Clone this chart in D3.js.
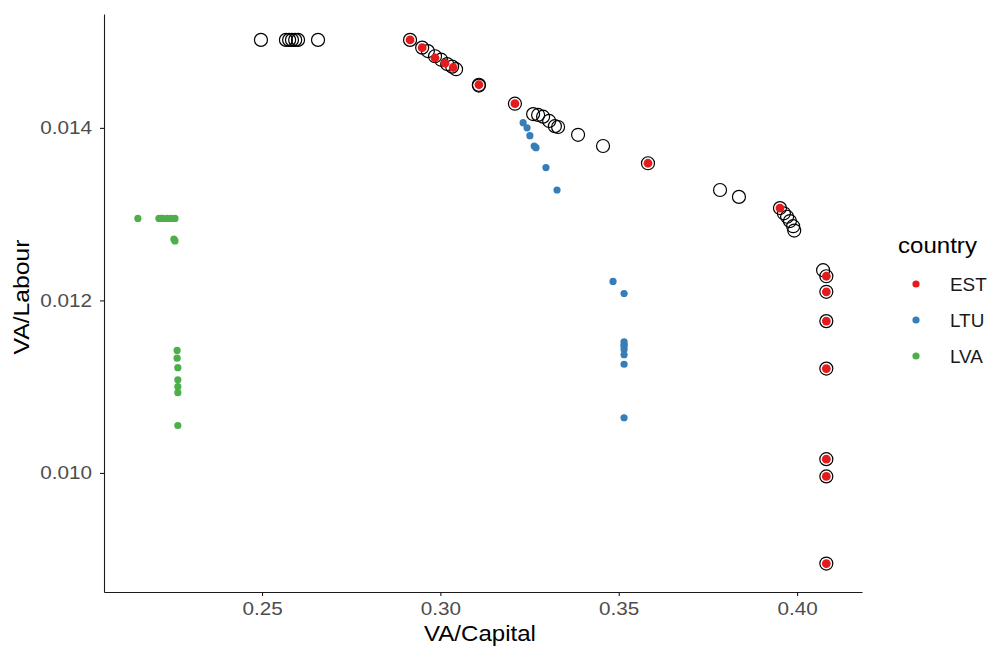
<!DOCTYPE html>
<html>
<head>
<meta charset="utf-8">
<script src="https://cdn.jsdelivr.net/npm/d3@7"></script>
<style>
  body { margin: 0; background: #fff; }
  text { font-family: "Liberation Sans", Arial, sans-serif; }
  .axis text { fill: #4d4d4d; font-size: 18px; }
  .axis path, .axis line { stroke: #1a1a1a; stroke-width: 1.1; }
</style>
</head>
<body>
<script>
// data
var countries = ["EST", "LTU", "LVA"];
var colours = ["#E41A1C", "#377EB8", "#4DAF4A"];

var estX = [0.2915, 0.2949, 0.2985, 0.3013, 0.3036, 0.3108, 0.3209, 0.3582, 0.3952,
            0.4082, 0.4082, 0.4082, 0.4082, 0.4082, 0.4082, 0.4082];
var estY = [0.01502, 0.01493, 0.01481, 0.01475, 0.01470, 0.01450, 0.01428, 0.01359, 0.01307,
            0.01228, 0.01210, 0.01176, 0.01121, 0.01016, 0.00996, 0.00895];

var ltuX = [0.3232, 0.3243, 0.3251, 0.3263, 0.3268, 0.3296, 0.3327, 0.3484,
            0.3515, 0.3515, 0.3515, 0.3515, 0.3515, 0.3515, 0.3515, 0.3515];
var ltuY = [0.01406, 0.01400, 0.01391, 0.01379, 0.01377, 0.01354, 0.01328, 0.01222,
            0.01208, 0.01152, 0.01149, 0.01147, 0.01143, 0.01137, 0.01126, 0.01064];

var lvaX = [0.2152, 0.2211, 0.2217, 0.2222, 0.2234, 0.2245, 0.2256, 0.2253,
            0.2256, 0.2262, 0.2262, 0.2264, 0.2264, 0.2264, 0.2264, 0.2264];
var lvaY = [0.01295, 0.01295, 0.01295, 0.01295, 0.01295, 0.01295, 0.01295, 0.01271,
            0.01269, 0.01142, 0.01133, 0.01122, 0.01108, 0.01100, 0.01093, 0.01055];

// open circles (frontier)
var frontX = [0.2497, 0.2567, 0.2576, 0.2584, 0.2593, 0.2601, 0.2657,
              0.2915, 0.2949, 0.2965, 0.2985, 0.3002, 0.3019, 0.3033, 0.3044, 0.3108, 0.3108,
              0.3209, 0.3260, 0.3274, 0.3288, 0.3305, 0.3321, 0.3330, 0.3386, 0.3456, 0.3582,
              0.3784, 0.3837, 0.3952, 0.3963, 0.3972, 0.3980, 0.3989, 0.3992, 0.4073,
              0.4082, 0.4082, 0.4082, 0.4082, 0.4082, 0.4082, 0.4082];
var frontY = [0.01502, 0.01502, 0.01502, 0.01502, 0.01502, 0.01502, 0.01502,
              0.01502, 0.01493, 0.01489, 0.01483, 0.01479, 0.01474, 0.01471, 0.01468, 0.01450, 0.01449,
              0.01428, 0.01416, 0.01415, 0.01413, 0.01408, 0.01402, 0.01401, 0.01392, 0.01379, 0.01359,
              0.01328, 0.01320, 0.01307, 0.01301, 0.01297, 0.01292, 0.01286, 0.01281, 0.01235,
              0.01228, 0.01210, 0.01176, 0.01121, 0.01016, 0.00996, 0.00895];

var xTicks = [0.25, 0.30, 0.35, 0.40];
var yTicks = [0.010, 0.012, 0.014];

var width = 989, height = 648;
var plot = {left: 104, right: 862, top: 14, bottom: 592};
var stretch = 1.15; // text in the picture is drawn a bit wide

var svg = d3.select("body").append("svg")
  .attr("width", width)
  .attr("height", height);

var x = d3.scaleLinear().domain([0.2057, 0.4182]).range([plot.left, plot.right]);
var y = d3.scaleLinear().domain([0.00862, 0.01532]).range([plot.bottom, plot.top]);

// build point list
function pairs(xs, ys, c) {
  return xs.map(function(v, i) { return {x: v, y: ys[i], country: c}; });
}
var frontier = pairs(frontX, frontY, null);
var points = pairs(ltuX, ltuY, "LTU")
  .concat(pairs(lvaX, lvaY, "LVA"))
  .concat(pairs(estX, estY, "EST"));

var colour = d3.scaleOrdinal().domain(countries).range(colours);

// axes
var xAxis = svg.append("g")
  .attr("class", "axis")
  .attr("transform", "translate(0," + plot.bottom + ")")
  .call(d3.axisBottom(x).tickValues(xTicks).tickFormat(d3.format(".2f"))
    .tickSize(4).tickSizeOuter(0).tickPadding(6));
xAxis.selectAll("text").attr("transform", "scale(" + stretch + ",1)");

var yAxis = svg.append("g")
  .attr("class", "axis")
  .attr("transform", "translate(" + plot.left + ",0)")
  .call(d3.axisLeft(y).tickValues(yTicks).tickFormat(d3.format(".3f"))
    .tickSize(4).tickSizeOuter(0));
yAxis.selectAll("text")
  .attr("x", 0)
  .attr("transform", "translate(-12,0) scale(" + stretch + ",1)");

// open circles
svg.append("g").selectAll("circle")
  .data(frontier)
  .enter().append("circle")
    .attr("cx", function(d) { return x(d.x); })
    .attr("cy", function(d) { return y(d.y); })
    .attr("r", 6.5)
    .style("fill", "none")
    .style("stroke", "#000")
    .style("stroke-width", 1.2);

// coloured points
svg.append("g").selectAll("circle")
  .data(points)
  .enter().append("circle")
    .attr("cx", function(d) { return x(d.x); })
    .attr("cy", function(d) { return y(d.y); })
    .attr("r", function(d) { return d.country == "EST" ? 4.4 : 3.6; })
    .style("fill", function(d) { return colour(d.country); });

// axis titles
svg.append("text")
  .attr("transform", "translate(480,641) scale(1.12,1)")
  .attr("text-anchor", "middle")
  .style("font-size", "21.5px")
  .style("fill", "#000")
  .text("VA/Capital");

svg.append("text")
  .attr("transform", "translate(29,297) rotate(-90) scale(1.15,1)")
  .attr("text-anchor", "middle")
  .style("font-size", "21.5px")
  .style("fill", "#000")
  .text("VA/Labour");

// legend
var legend = svg.append("g").attr("transform", "translate(898,0)");
legend.append("text")
  .attr("transform", "translate(0,253) scale(1.12,1)")
  .style("font-size", "21.5px")
  .style("fill", "#000")
  .text("country");

var item = legend.selectAll(".item")
  .data(countries)
  .enter().append("g")
    .attr("class", "item")
    .attr("transform", function(d, i) { return "translate(0," + (284 + i * 36) + ")"; });
item.append("circle")
  .attr("cx", 18)
  .attr("cy", 0)
  .attr("r", 3.6)
  .style("fill", function(d) { return colour(d); });
item.append("text")
  .attr("transform", "translate(52,6.5) scale(1.05,1)")
  .style("font-size", "18px")
  .style("fill", "#1a1a1a")
  .text(function(d) { return d; });
</script>
</body>
</html>
